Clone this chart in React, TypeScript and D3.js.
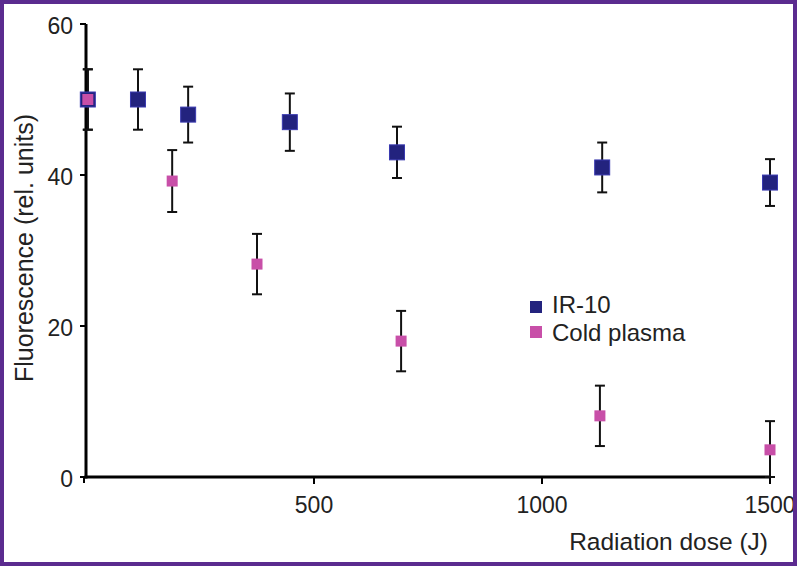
import React from "react";
import * as d3 from "d3";

const irX = [4, 114, 224, 447, 682, 1132, 1500];
const irY = [50, 50, 48, 47, 43, 41, 39];
const irErr = [4, 4, 3.7, 3.8, 3.4, 3.3, 3.1];

const cpX = [4, 189, 375, 691, 1127, 1500];
const cpY = [50, 39.2, 28.2, 18.0, 8.1, 3.6];
const cpErr = [4, 4.1, 4, 4, 4, 3.8];

const xTicks = [500, 1000, 1500];
const yTicks = [0, 20, 40, 60];

const W = 797, H = 566;
const FONT = "'Liberation Sans', Arial, sans-serif";

export default function App() {
  const x = d3.scaleLinear().domain([0, 1500]).range([86, 770]);
  const y = d3.scaleLinear().domain([0, 60]).range([477, 24]);
  const ir = irX.map((v, i) => ({ x: v, y: irY[i], e: irErr[i] }));
  const cp = cpX.map((v, i) => ({ x: v, y: cpY[i], e: cpErr[i] }));
  const errBar = (d: any, key: string) => {
    const cx = x(d.x);
    const lo = Math.max(0, d.y - d.e);
    return (
      <g key={key} stroke="#111" strokeWidth={2}>
        <line x1={cx} x2={cx} y1={y(d.y + d.e)} y2={y(lo)} />
        <line x1={cx - 5} x2={cx + 5} y1={y(d.y + d.e)} y2={y(d.y + d.e)} />
        <line x1={cx - 5} x2={cx + 5} y1={y(lo)} y2={y(lo)} />
      </g>
    );
  };
  return (
    <svg width={W} height={H} style={{ position: "absolute", left: 0, top: 0 }} fontFamily={FONT}>
      <rect x={0} y={0} width={W} height={H} fill="#fff" />
      {/* axes */}
      <line x1={86} x2={86} y1={y(60)} y2={y(0) + 1.5} stroke="#000" strokeWidth={3} />
      <line x1={84.5} x2={x(1500)} y1={y(0)} y2={y(0)} stroke="#000" strokeWidth={3} />
      {yTicks.map((t) => (
        <g key={"yt" + t}>
          <line x1={80} x2={86} y1={y(t)} y2={y(t)} stroke="#000" strokeWidth={2} />
          <text x={73} y={y(t) + 10} textAnchor="end" fontSize={23} fill="#222">{t}</text>
        </g>
      ))}
      <line x1={84} x2={84} y1={y(0)} y2={y(0) + 6} stroke="#000" strokeWidth={2} />
      {xTicks.map((t) => (
        <g key={"xt" + t}>
          <line x1={x(t)} x2={x(t)} y1={y(0)} y2={y(0) + 7} stroke="#000" strokeWidth={2} />
          <text x={x(t)} y={513} textAnchor="middle" fontSize={23} fill="#222">{t}</text>
        </g>
      ))}
      <line x1={x(1500)} x2={x(1500)} y1={y(0) - 4} y2={y(0) + 5} stroke="#000" strokeWidth={2} />
      <text x={768} y={550} textAnchor="end" fontSize={24.5} fill="#222">Radiation dose (J)</text>
      <text transform={`translate(33,${248}) rotate(-90)`} textAnchor="middle" fontSize={25} fill="#222">Fluorescence (rel. units)</text>
      {/* error bars */}
      {ir.map((d, i) => errBar(d, "ie" + i))}
      {cp.map((d, i) => errBar(d, "ce" + i))}
      {/* markers */}
      {ir.map((d, i) => (
        <rect key={"ir" + i} x={x(d.x) - 7.5} y={y(d.y) - 7.5} width={15} height={15} fill="#23237e" stroke="#3a3ab0" strokeWidth={1} />
      ))}
      {cp.map((d, i) => (
        <rect key={"cp" + i} x={x(d.x) - 5.5} y={y(d.y) - 5.5} width={11} height={11} fill="#c84fa8" />
      ))}
      {/* legend */}
      <rect x={530} y={301} width={12} height={12} fill="#23237e" />
      <text x={552} y={313} fontSize={24} fill="#222">IR-10</text>
      <rect x={530} y={326} width={12} height={12} fill="#c84fa8" />
      <text x={552} y={341} fontSize={24} fill="#222">Cold plasma</text>
      {/* border */}
      <rect x={2} y={2} width={W - 4} height={H - 4} fill="none" stroke="#5b2b8f" strokeWidth={4} />
    </svg>
  );
}
